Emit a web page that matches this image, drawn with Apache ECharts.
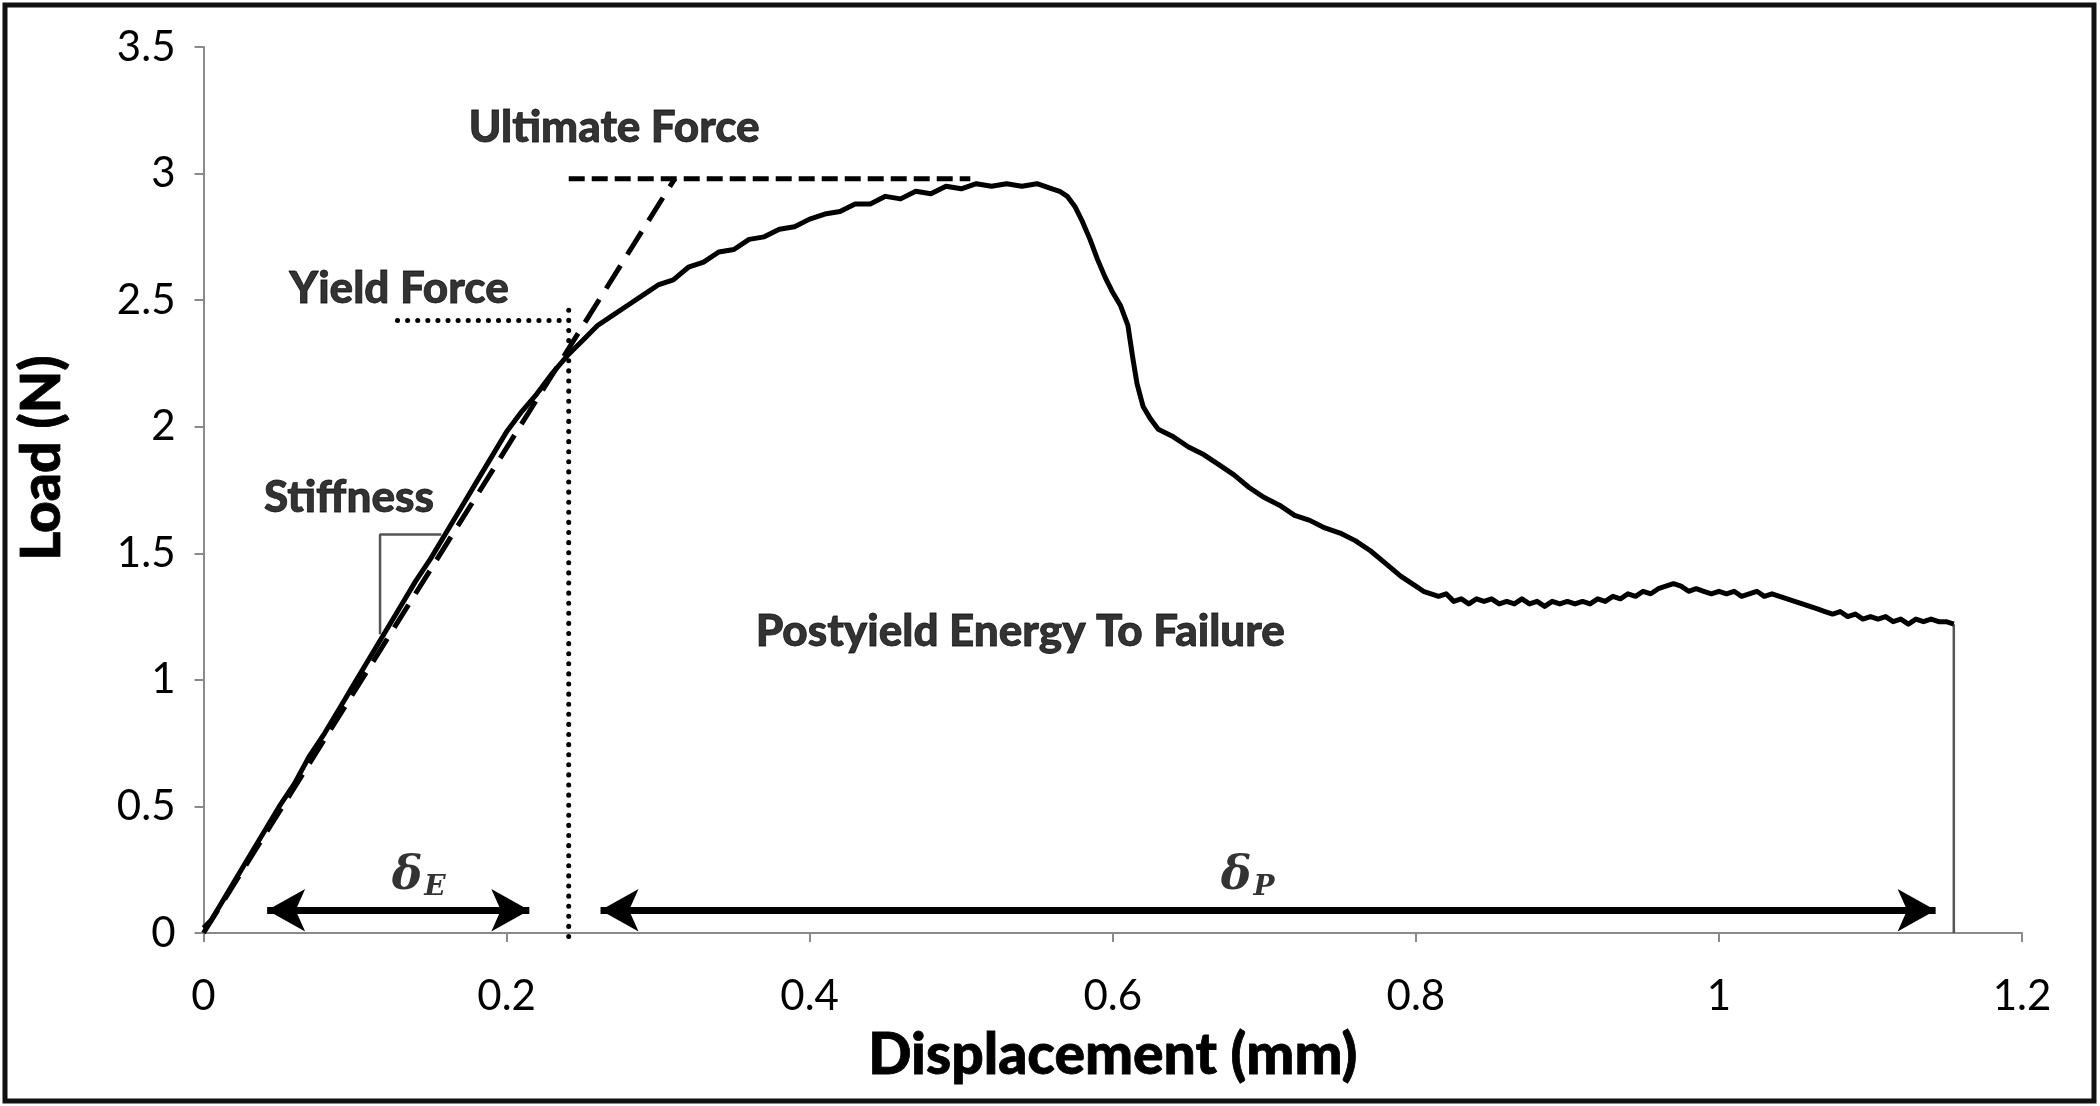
<!DOCTYPE html>
<html><head><meta charset="utf-8">
<script src="https://cdn.jsdelivr.net/npm/echarts@6/dist/echarts.min.js"></script>
<style>html,body{margin:0;padding:0;background:#fff}#c{width:2100px;height:1106px}</style>
</head><body><div id="c"></div>
<script>
// Load–displacement curve
const displacement = [
  0,0.005,0.01,0.02,0.03,0.04,0.05,0.06,0.07,0.08,0.09,0.1,0.11,0.12,0.13,0.14,0.15,0.16,0.17,0.18,0.19,0.2,0.21,0.22,0.23,0.24,0.25,
  0.26,0.27,0.28,0.29,0.3,0.31,0.32,0.33,0.34,0.35,0.36,0.37,0.38,0.39,0.4,0.41,0.42,0.43,0.44,0.45,0.46,0.47,0.48,0.49,0.5,0.51,0.52,0.53,0.54,0.55,0.56,
  0.565,0.57,0.575,0.58,0.585,0.59,0.595,0.6,0.605,0.61,0.613,0.616,0.62,0.625,0.63,
  0.64,0.65,0.66,0.67,0.68,0.69,0.7,0.71,0.72,0.73,0.74,0.75,0.76,0.77,0.78,0.79,
  0.8,0.805,0.81,0.815,0.82,0.825,0.83,0.835,0.84,0.845,0.85,0.855,0.86,0.865,0.87,0.875,0.88,0.885,0.89,0.895,
  0.9,0.905,0.91,0.915,0.92,0.925,0.93,0.935,0.94,0.945,0.95,0.955,0.96,0.965,0.97,0.975,0.98,0.985,0.99,0.995,
  1.0,1.005,1.01,1.015,1.02,1.025,1.03,1.035,1.04,1.045,1.05,1.055,1.06,1.065,1.07,1.075,1.08,1.085,1.09,1.095,
  1.1,1.105,1.11,1.115,1.12,1.125,1.13,1.135,1.14,1.145,1.15,1.155];
const load = [
  0.02,0.05,0.10,0.20,0.30,0.40,0.50,0.59,0.70,0.79,0.89,0.99,1.09,1.19,1.29,1.39,1.48,1.58,1.68,1.78,1.88,1.98,2.06,2.13,2.21,2.28,2.34,
  2.40,2.44,2.48,2.52,2.56,2.58,2.63,2.65,2.69,2.70,2.74,2.75,2.78,2.79,2.82,2.84,2.85,2.88,2.88,2.91,2.90,2.93,2.92,2.95,2.94,2.96,2.95,2.96,2.95,2.96,2.94,
  2.93,2.91,2.87,2.81,2.74,2.66,2.59,2.53,2.48,2.40,2.28,2.17,2.08,2.03,1.99,
  1.96,1.92,1.89,1.85,1.81,1.76,1.72,1.69,1.65,1.63,1.60,1.58,1.55,1.51,1.46,1.41,
  1.37,1.35,1.34,1.33,1.34,1.31,1.32,1.30,1.32,1.31,1.32,1.30,1.31,1.30,1.32,1.30,1.31,1.29,1.31,1.30,
  1.31,1.30,1.31,1.30,1.32,1.31,1.33,1.32,1.34,1.33,1.35,1.34,1.36,1.37,1.38,1.37,1.35,1.36,1.35,1.34,
  1.35,1.34,1.35,1.33,1.34,1.35,1.33,1.34,1.33,1.32,1.31,1.30,1.29,1.28,1.27,1.26,1.27,1.25,1.26,1.24,
  1.25,1.24,1.25,1.23,1.24,1.22,1.24,1.23,1.24,1.23,1.23,1.22];

// Construction lines
const stiffnessLine = [[0,0],[0.311,2.98]];
const ultimateLine = [[0.241,2.98],[0.506,2.98]];
const yieldHLine = [[0.128,2.42],[0.241,2.42]];
const yieldVLine = [[0.241,2.46],[0.241,-0.025]];
const stiffnessTriangle = [[0.1165,1.18],[0.1165,1.574],[0.157,1.574]];
const failureLine = [[1.155,1.22],[1.155,0]];
const deltaEArrow = [[0.042,0.09],[0.215,0.09]];
const deltaPArrow = [[0.262,0.09],[1.143,0.09]];

// Annotations
const annotations = [
  {name:'Ultimate Force', value:[0.271,3.18]},
  {name:'Yield Force', value:[0.129,2.545]},
  {name:'Stiffness', value:[0.096,1.72]},
  {name:'Postyield Energy To Failure', value:[0.539,1.19]}
];
const deltaLabels = [
  {name:'E', value:[0.142,0.221]},
  {name:'P', value:[0.689,0.221]}
];

const xTicks = {min:0, max:1.2, interval:0.2};
const yTicks = {min:0, max:3.5, interval:0.5};

const FONT = 'Lato';
const chart = echarts.init(document.getElementById('c'), null, {renderer:'canvas'});
const curve = displacement.map((d,i)=>[d, load[i]]);

chart.setOption({
  animation:false,
  backgroundColor:'#fff',
  grid:{left:203.5, right:78, top:47, bottom:173},
  xAxis:{type:'value', min:xTicks.min, max:xTicks.max, interval:xTicks.interval,
    name:'Displacement (mm)', nameLocation:'middle', nameGap:94,
    nameTextStyle:{fontFamily:FONT, fontWeight:900, fontSize:57, color:'#000', verticalAlign:'top', textBorderColor:'#000', textBorderWidth:0.8},
    axisLine:{lineStyle:{color:'#8a8a8a', width:2}},
    axisTick:{show:true, length:9, lineStyle:{color:'#8a8a8a', width:2}},
    axisLabel:{fontFamily:FONT, fontSize:42, color:'#000', margin:42},
    splitLine:{show:false}},
  yAxis:{type:'value', min:yTicks.min, max:yTicks.max, interval:yTicks.interval,
    name:'Load (N)', nameLocation:'middle', nameGap:134,
    nameTextStyle:{fontFamily:FONT, fontWeight:900, fontSize:55, color:'#000', padding:[0,0,0,64], textBorderColor:'#000', textBorderWidth:0.8},
    axisLine:{show:true, lineStyle:{color:'#8a8a8a', width:2}},
    axisTick:{show:true, length:9, lineStyle:{color:'#8a8a8a', width:2}},
    axisLabel:{fontFamily:FONT, fontSize:42, color:'#000', margin:28},
    splitLine:{show:false}},
  graphic:[{type:'rect', shape:{x:5, y:5, width:2089, height:1096}, style:{fill:null, stroke:'#111', lineWidth:5}, z:100}],
  series:[
    {type:'line', data:curve, showSymbol:false, symbol:'none', lineStyle:{color:'#000', width:5, join:'round'}, z:5},
    {type:'line', data:stiffnessLine, symbol:'none', lineStyle:{color:'#000', width:5, type:[27,13]}, z:4},
    {type:'line', data:ultimateLine, symbol:'none', lineStyle:{color:'#000', width:5, type:[16,7]}, z:4},
    {type:'line', data:yieldHLine, symbol:'none', clip:false, lineStyle:{color:'#000', width:5, type:[0.1,10], cap:'round'}, z:4},
    {type:'line', data:yieldVLine, symbol:'none', clip:false, lineStyle:{color:'#000', width:5, type:[0.1,10], cap:'round'}, z:4},
    {type:'line', data:stiffnessTriangle, symbol:'none', lineStyle:{color:'#555', width:2.5}, z:3},
    {type:'line', data:failureLine, symbol:'none', lineStyle:{color:'#555', width:2.5}, z:3},
    {type:'line', data:[], markLine:{silent:true, symbol:['arrow','arrow'], symbolSize:[32,38], label:{show:false},
      lineStyle:{color:'#000', width:7, type:'solid'},
      data:[
        [{coord:deltaEArrow[0]},{coord:deltaEArrow[1]}],
        [{coord:deltaPArrow[0]},{coord:deltaPArrow[1]}]
      ]}},
    {type:'scatter', data:annotations, symbolSize:0,
      label:{show:true, position:'inside', formatter:p=>p.name, fontFamily:FONT, fontWeight:900, fontSize:44, color:'#000', textBorderColor:'#000', textBorderWidth:0.8}, z:6},
    {type:'scatter', data:deltaLabels, symbolSize:0,
      label:{show:true, position:'inside', formatter:p=>'{d|δ}{s|'+p.name+'}',
        rich:{d:{fontFamily:'DejaVu Serif', fontStyle:'italic', fontWeight:'bold', fontSize:46, color:'#000'},
              s:{fontFamily:'DejaVu Serif', fontStyle:'italic', fontWeight:'bold', fontSize:28, color:'#000', verticalAlign:'bottom', padding:[22,0,0,2]}}}, z:6}
  ]
});
</script></body></html>
